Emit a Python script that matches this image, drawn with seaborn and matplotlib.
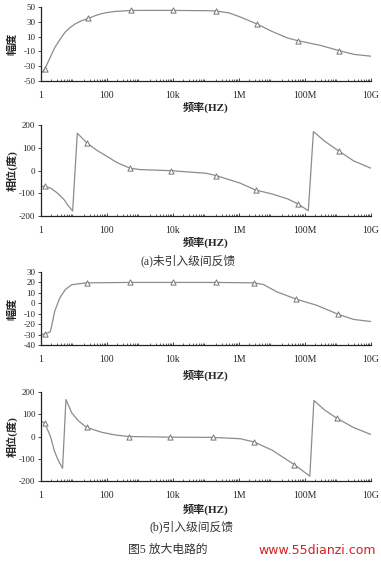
import numpy as np
import matplotlib
matplotlib.use("Agg")
import matplotlib.pyplot as plt
import matplotlib.ticker as mticker
import pandas as pd
import seaborn as sns

sns.set_style("ticks")
plt.rcParams['font.family'] = ['Liberation Serif', 'Noto Sans CJK SC', 'DejaVu Sans']
plt.rcParams['axes.unicode_minus'] = False

# (a) no inter-stage feedback: magnitude
mag_a_f = [1, 1.3, 2, 2.6, 4, 5.4, 7.5, 10.7, 16, 27, 45, 69, 100, 175, 520, 1e3, 1e4, 1e5,
           2e5, 5e5, 1.1e6, 3.5e6, 1e7, 3e7, 6e7, 1e8, 3e8, 1.1e9, 3e9, 1e10]
mag_a_v = [-40, -34, -16, -5, 8, 16, 22, 27, 31, 34.5, 38.5, 41, 42.5, 44, 45.3, 45.4, 45.4, 45,
           44.7, 42, 36.5, 27, 17, 8, 4.5, 2.5, -2, -9, -14, -16.5]
mag_a_mf = [1.3, 27, 520, 1e4, 2e5, 3.5e6, 6e7, 1.1e9]
mag_a_mv = [-34, 34.5, 45.3, 45.4, 44.7, 27, 4.5, -9]

# (a) phase
ph_a_f = [1, 1.3, 2, 3.2, 5, 6.3, 9.1, 12.6, 25, 50, 100, 200, 500, 1e3, 9e3, 1e5, 2e5,
          1.1e6, 3.2e6, 1e7, 3e7, 6.3e7, 1.26e8, 1.8e8, 4e8, 1.1e9, 3e9, 1e10]
ph_a_v = [-70, -70, -78, -100, -128, -150, -178, 164, 120, 88, 62, 35, 10, 4, -1, -12, -22,
          -56, -86, -103, -125, -148, -177, 171, 128, 84, 42, 10]
ph_a_mf = [1.3, 25, 500, 9e3, 2e5, 3.2e6, 6.3e7, 1.1e9]
ph_a_mv = [-70, 120, 10, -1, -22, -86, -148, 84]

# (b) with inter-stage feedback: magnitude
mag_b_f = [1, 1.3, 1.9, 2.1, 2.6, 3.7, 5.4, 8.5, 24, 500, 1e4, 2e5, 2.9e6, 5.5e6, 1.4e7,
           5.4e7, 2.3e8, 1e9, 3e9, 1e10]
mag_b_v = [-30, -29.4, -27.4, -22, -7.6, 5, 13, 17.8, 19.6, 20, 20, 20, 19.6, 18, 11,
           4, -2, -10.5, -15.5, -17.5]
mag_b_mf = [1.3, 24, 500, 1e4, 2e5, 2.9e6, 5.4e7, 1e9]
mag_b_mv = [-29.4, 19.6, 20, 20, 20, 19.6, 4, -10.5]

# (b) phase
ph_b_f = [1, 1.3, 1.9, 2.6, 3.3, 4.5, 5.7, 8.5, 13.5, 24, 69, 175, 450, 8.3e3, 1.6e5, 1.1e6,
          2.9e6, 1e7, 4.8e7, 1.4e8, 1.86e8, 4e8, 9.5e8, 3e9, 1e10]
ph_b_v = [70, 59, 4, -69, -106, -143, 166, 107, 71, 41, 19, 7, 0, -3, -4, -10,
          -25, -61, -127, -178, 162, 118, 81, 40, 9]
ph_b_mf = [1.3, 24, 450, 8.3e3, 1.6e5, 2.9e6, 4.8e7, 9.5e8]
ph_b_mv = [59, 41, 0, -3, -4, -25, -127, 81]

xtick_vals = [1, 1e2, 1e4, 1e6, 1e8, 1e10]
xtick_text = ["1", "100", "10k", "1M", "100M", "10G"]

panels = [
    (mag_a_f, mag_a_v, mag_a_mf, mag_a_mv, "幅度", (-50, 50), [50, 30, 10, -10, -30, -50]),
    (ph_a_f, ph_a_v, ph_a_mf, ph_a_mv, "相位(度)", (-200, 200), [200, 100, 0, -100, -200]),
    (mag_b_f, mag_b_v, mag_b_mf, mag_b_mv, "幅度", (-40, 30), [30, 20, 10, 0, -10, -20, -30, -40]),
    (ph_b_f, ph_b_v, ph_b_mf, ph_b_mv, "相位(度)", (-200, 200), [200, 100, 0, -100, -200]),
]

W, H = 381, 563
# axes boxes in pixels: (top, bottom)
boxes = [(7, 81), (125, 216), (272, 345), (392, 481)]
xlabel_y = [107, 242, 375, 509]
left_px, right_px = 41, 371

fig = plt.figure(figsize=(W / 100, H / 100), dpi=100)
fig.patch.set_facecolor("white")
line_c = "#8c8c8c"
lab_font = ['Liberation Serif', 'Noto Sans CJK SC', 'DejaVu Sans']

for (f, v, mf, mv, ylab, ylim, yt), (top, bot), xly in zip(panels, boxes, xlabel_y):
    ax = fig.add_axes([left_px / W, 1 - bot / H, (right_px - left_px) / W, (bot - top) / H])
    df = pd.DataFrame({"f": f, "v": v})
    sns.lineplot(data=df, x="f", y="v", ax=ax, sort=False, color=line_c, lw=0.9)
    dm = pd.DataFrame({"f": mf, "v": mv})
    sns.scatterplot(data=dm, x="f", y="v", ax=ax, marker="^", s=14,
                    facecolor="white", edgecolor="#777777", linewidth=0.7, zorder=3)
    ax.set_xscale("log")
    ax.set_xlim(1, 1e10)
    ax.set_ylim(*ylim)
    ax.set_xticks(xtick_vals)
    ax.set_xticklabels(xtick_text)
    ax.xaxis.set_minor_locator(mticker.LogLocator(base=10, subs=np.arange(2, 10), numticks=50))
    ax.xaxis.set_minor_formatter(mticker.NullFormatter())
    ax.set_yticks(yt)
    ax.set_yticklabels([str(t) for t in yt])
    ax.tick_params(axis="x", which="major", direction="in", length=2.5, width=0.6,
                   pad=7, labelsize=7)
    ax.tick_params(axis="x", which="minor", direction="in", length=1.5, width=0.5)
    ax.tick_params(axis="y", which="major", direction="out", length=2.5, width=0.6,
                   pad=1.5, labelsize=6.5)
    for s in ["top", "right"]:
        ax.spines[s].set_visible(False)
    for s in ["left", "bottom"]:
        ax.spines[s].set_linewidth(0.9)
        ax.spines[s].set_color("#222222")
    ax.set_xlabel("频率(HZ)", fontsize=8, family=lab_font, fontweight="bold")
    ax.xaxis.set_label_coords(0.5, -(xly - bot) / (bot - top))
    ax.set_ylabel(ylab, fontsize=8, family=lab_font, fontweight="bold")
    ax.yaxis.set_label_coords(-(left_px - 12) / (right_px - left_px), 0.5)
    ax.xaxis.label.set_va("center")
    ax.yaxis.label.set_va("center")

cjk = ['Liberation Serif', 'Noto Sans CJK SC', 'DejaVu Sans']
fig.text(188 / W, 1 - 261 / H, "(a)未引入级间反馈", ha="center", va="center",
         fontsize=8.5, family=cjk, color="#333333")
fig.text(192 / W, 1 - 527 / H, "(b)引入级间反馈", ha="center", va="center",
         fontsize=8.5, family=cjk, color="#333333")
fig.text(128 / W, 1 - 550 / H, "图5 放大电路的", ha="left", va="center",
         fontsize=8.5, family=cjk, color="#333333")
fig.text(376 / W, 1 - 550 / H, "www.55dianzi.com", ha="right", va="center",
         fontsize=9, family=['DejaVu Sans'], color="#d42020")

fig.savefig("out.png", dpi=100, facecolor="white")
